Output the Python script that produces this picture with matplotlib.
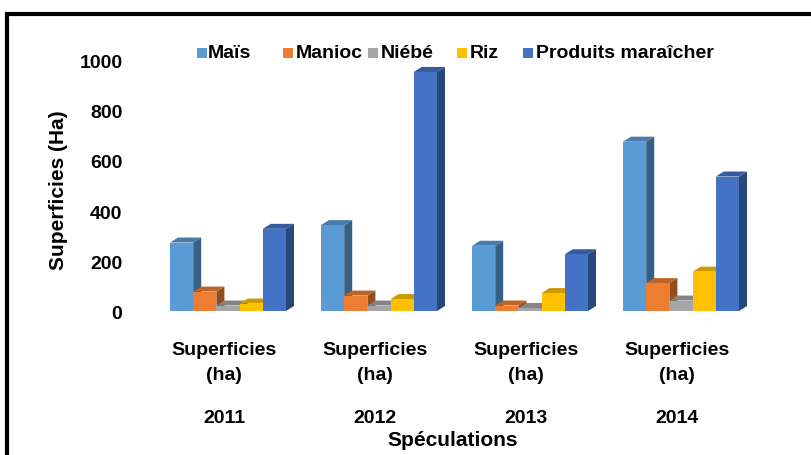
import matplotlib
matplotlib.use("Agg")
import matplotlib.pyplot as plt
from matplotlib.patches import Polygon, Rectangle
from matplotlib import colors as mcolors
import numpy as np

years = ["2011", "2012", "2013", "2014"]
category_label = "Superficies\n(ha)"
series = ["Maïs", "Manioc", "Niébé", "Riz", "Produits maraîcher"]
mais = [275, 345, 262, 680]
manioc = [78, 62, 22, 112]
niebe = [22, 22, 12, 42]
riz = [30, 48, 72, 158]
produits = [330, 960, 228, 540]
values = [mais, manioc, niebe, riz, produits]
colors = ["#5B9BD5", "#ED7D31", "#A5A5A5", "#FFC000", "#4472C4"]
yticks = [0, 200, 400, 600, 800, 1000]

FONT = ["Liberation Sans Narrow", "Liberation Sans", "DejaVu Sans"]
plt.rcParams["font.family"] = FONT
plt.rcParams["font.weight"] = "bold"

W, H = 812, 456
fig = plt.figure(figsize=(W / 100, H / 100), dpi=100)

def fx(px):
    return px / W

def fy(py):
    return 1 - py / H

# axes geometry in pixels
left_px, right_px = 152.5, 756.5
top_px, bot_px = 63, 312
ax = fig.add_axes([fx(left_px), fy(bot_px), fx(right_px - left_px), (bot_px - top_px) / H])
ax.set_xlim(-0.5, 3.5)
ax.set_ylim(0, 1000)
ax.axis("off")

bw = 23.2 / 151.0
dx = 8 / 151.0
dy = 5 * 1000 / 249.0

def shade(c, f):
    r, g, b = mcolors.to_rgb(c)
    return (r * f, g * f, b * f)

n = len(series)
for gi in range(len(years)):
    for si in range(n):
        v = values[si][gi]
        x0 = gi - n * bw / 2 + si * bw
        x1 = x0 + bw
        c = colors[si]
        side = Polygon([(x1, 0), (x1 + dx, dy), (x1 + dx, v + dy), (x1, v)],
                       closed=True, facecolor=shade(c, 0.62), edgecolor="none",
                       clip_on=False, zorder=2 + gi * 10 + si)
        ax.add_patch(side)
        top = Polygon([(x0, v), (x0 + dx, v + dy), (x1 + dx, v + dy), (x1, v)],
                      closed=True, facecolor=shade(c, 0.8), edgecolor="none",
                      clip_on=False, zorder=2 + gi * 10 + si)
        ax.add_patch(top)
        ax.bar(x0, v, width=bw, align="edge", color=c, edgecolor="none",
               zorder=2.5 + gi * 10 + si, clip_on=False)

# y tick labels (value axis drawn on the back wall, slightly offset)
for t in yticks:
    ax.text(-0.5 - 30 / 151.0, t * 1.012 - 12, str(t), ha="right", va="center",
            fontsize=14, fontweight="bold", color="black", family=FONT)

# category labels
for gi, yr in enumerate(years):
    fig.text(fx(left_px + (gi + 0.5) * 151 - 4), fy(363), category_label,
             ha="center", va="center", fontsize=14, fontweight="bold",
             linespacing=1.6, family=FONT)
    fig.text(fx(left_px + (gi + 0.5) * 151 - 4), fy(419), yr,
             ha="center", va="center", fontsize=14, fontweight="bold", family=FONT)

fig.text(fx(453), fy(441), "Spéculations", ha="center", va="center",
         fontsize=15, fontweight="bold", family=FONT)
fig.text(fx(59), fy(190), "Superficies (Ha)", ha="center", va="center",
         rotation=90, fontsize=15, fontweight="bold", family=FONT)

# legend
leg_items = [(197, 208), (283, 296), (368, 381), (457, 470), (523, 536)]
for (sx, tx), name, c in zip(leg_items, series, colors):
    fig.patches.append(Rectangle((fx(sx), fy(59)), fx(10), 10 / H, transform=fig.transFigure,
                                 facecolor=c, edgecolor="none"))
    fig.text(fx(tx), fy(54), name, ha="left", va="center", fontsize=14,
             fontweight="bold", family=FONT)

# border
fig.patches.append(Rectangle((fx(7), fy(470)), fx(900), (470 - 15) / H,
                             transform=fig.transFigure, facecolor="none",
                             edgecolor="black", linewidth=3))

fig.savefig("out.png", dpi=100)
